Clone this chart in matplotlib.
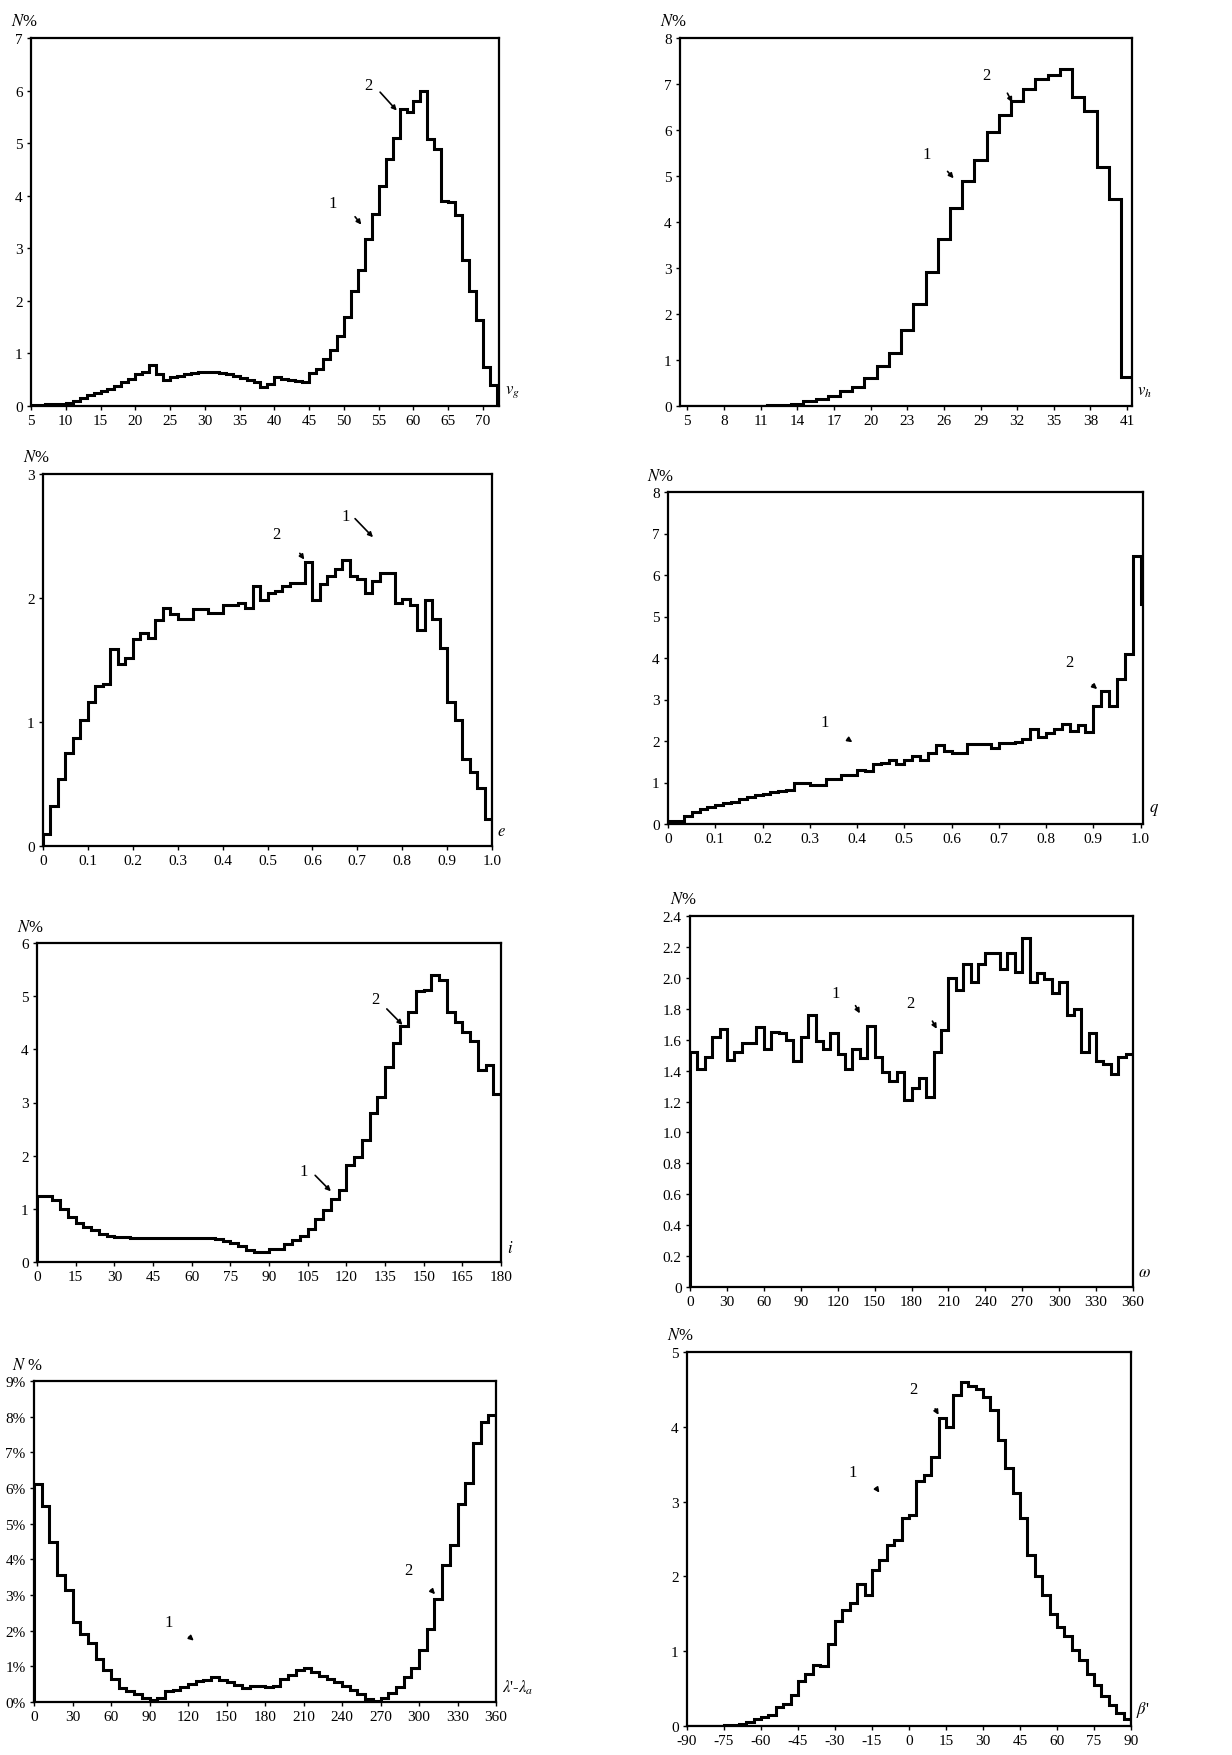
import numpy as np
import matplotlib
matplotlib.use("Agg")
import matplotlib.pyplot as plt

plt.rcParams['font.family'] = ['Liberation Serif', 'DejaVu Serif']
plt.rcParams['mathtext.fontset'] = 'stix'
plt.rcParams['axes.unicode_minus'] = False

# ---------------- data ----------------
# Panel 1: v_g
vg_values = [0.01, 0.02, 0.03, 0.03, 0.04, 0.05, 0.1, 0.15, 0.2, 0.24,
             0.28, 0.32, 0.38, 0.46, 0.52, 0.6, 0.65, 0.78, 0.6, 0.5,
             0.55, 0.58, 0.6, 0.62, 0.64, 0.65, 0.64, 0.62, 0.6, 0.57,
             0.54, 0.5, 0.46, 0.36, 0.42, 0.55, 0.52, 0.5, 0.47, 0.46,
             0.62, 0.7, 0.9, 1.06, 1.34, 1.7, 2.18, 2.59, 3.17, 3.66,
             4.18, 4.69, 5.1, 5.65, 5.6, 5.8, 6.0, 5.08, 4.88, 3.9,
             3.88, 3.64, 2.78, 2.18, 1.64, 0.75, 0.4]
vg_bins = (5.0, 1.0)
vg_xticks = [5, 10, 15, 20, 25, 30, 35, 40, 45, 50, 55, 60, 65, 70]
vg_yticks = [0, 1, 2, 3, 4, 5, 6, 7]

# Panel 2: v_h
vh_values = [0.0, 0.0, 0.0, 0.0, 0.0, 0.01, 0.01, 0.02, 0.03, 0.05,
             0.1, 0.15, 0.22, 0.32, 0.42, 0.6, 0.87, 1.16, 1.65, 2.21,
             2.92, 3.62, 4.3, 4.9, 5.34, 5.95, 6.32, 6.64, 6.9, 7.1,
             7.19, 7.33, 6.71, 6.42, 5.19, 4.5, 0.63]
vh_bins = (4.5, 1.0)
vh_xticks = [5, 8, 11, 14, 17, 20, 23, 26, 29, 32, 35, 38, 41]
vh_yticks = [0, 1, 2, 3, 4, 5, 6, 7, 8]

# Panel 3: e
e_values = [0.1, 0.32, 0.54, 0.75, 0.87, 1.02, 1.16, 1.29, 1.31, 1.59,
            1.47, 1.52, 1.67, 1.72, 1.68, 1.82, 1.92, 1.87, 1.83, 1.83,
            1.91, 1.91, 1.88, 1.88, 1.94, 1.94, 1.96, 1.92, 2.1, 1.98,
            2.04, 2.06, 2.1, 2.12, 2.12, 2.29, 1.98, 2.11, 2.18, 2.23,
            2.31, 2.18, 2.15, 2.04, 2.14, 2.2, 2.2, 1.96, 1.99, 1.94,
            1.74, 1.98, 1.83, 1.6, 1.16, 1.02, 0.7, 0.6, 0.47, 0.22]
e_bins = (0.0, 1.0 / 60)
e_xticks = [0, 0.1, 0.2, 0.3, 0.4, 0.5, 0.6, 0.7, 0.8, 0.9, 1.0]
e_xticklabels = ['0', '0.1', '0.2', '0.3', '0.4', '0.5', '0.6', '0.7', '0.8', '0.9', '1.0']
e_yticks = [0, 1, 2, 3]

# Panel 4: q
q_values = [0.08, 0.08, 0.2, 0.3, 0.35, 0.42, 0.46, 0.5, 0.54, 0.6,
            0.66, 0.7, 0.72, 0.78, 0.8, 0.83, 1.0, 1.0, 0.94, 0.94,
            1.09, 1.09, 1.18, 1.18, 1.3, 1.27, 1.45, 1.47, 1.55, 1.44,
            1.55, 1.64, 1.55, 1.7, 1.9, 1.75, 1.7, 1.7, 1.92, 1.92,
            1.92, 1.82, 1.95, 1.95, 1.97, 2.05, 2.28, 2.1, 2.2, 2.28,
            2.4, 2.25, 2.38, 2.22, 2.85, 3.2, 2.85, 3.5, 4.1, 6.45, 5.3]
q_bins = (0.0, 1.0 / 60)
q_xticks = e_xticks
q_xticklabels = e_xticklabels
q_yticks = [0, 1, 2, 3, 4, 5, 6, 7, 8]

# Panel 5: i
i_values = [1.25, 1.25, 1.17, 1.0, 0.85, 0.74, 0.66, 0.6, 0.53, 0.48,
            0.47, 0.47, 0.46, 0.46, 0.45, 0.45, 0.45, 0.45, 0.45, 0.45,
            0.46, 0.46, 0.46, 0.43, 0.4, 0.35, 0.3, 0.23, 0.19, 0.19,
            0.25, 0.25, 0.33, 0.41, 0.48, 0.63, 0.81, 0.97, 1.19, 1.36,
            1.82, 1.97, 2.3, 2.8, 3.1, 3.66, 4.12, 4.43, 4.7, 5.09,
            5.12, 5.4, 5.3, 4.71, 4.52, 4.32, 4.16, 3.61, 3.7, 3.16]
i_bins = (0.0, 3.0)
i_xticks = [0, 15, 30, 45, 60, 75, 90, 105, 120, 135, 150, 165, 180]
i_yticks = [0, 1, 2, 3, 4, 5, 6]

# Panel 6: omega
w_values = [1.52, 1.41, 1.49, 1.62, 1.67, 1.47, 1.52, 1.58, 1.58, 1.68,
            1.54, 1.65, 1.64, 1.6, 1.46, 1.62, 1.76, 1.59, 1.54, 1.64,
            1.51, 1.41, 1.54, 1.48, 1.69, 1.49, 1.39, 1.33, 1.39, 1.21,
            1.29, 1.35, 1.23, 1.52, 1.66, 2.0, 1.92, 2.09, 1.97, 2.09,
            2.16, 2.16, 2.06, 2.16, 2.04, 2.26, 1.97, 2.03, 1.99, 1.9,
            1.97, 1.76, 1.8, 1.52, 1.64, 1.46, 1.44, 1.38, 1.49, 1.51]
w_bins = (0.0, 6.0)
w_xticks = [0, 30, 60, 90, 120, 150, 180, 210, 240, 270, 300, 330, 360]
w_yticks = [0, 0.2, 0.4, 0.6, 0.8, 1.0, 1.2, 1.4, 1.6, 1.8, 2.0, 2.2, 2.4]
w_yticklabels = ['0', '0.2', '0.4', '0.6', '0.8', '1.0', '1.2', '1.4', '1.6', '1.8', '2.0', '2.2', '2.4']

# Panel 7: lambda' - lambda_a
l_values = [6.1, 5.5, 4.5, 3.55, 3.15, 2.25, 1.9, 1.65, 1.2, 0.9,
            0.65, 0.4, 0.3, 0.22, 0.1, 0.05, 0.12, 0.3, 0.35, 0.42,
            0.5, 0.58, 0.63, 0.7, 0.62, 0.55, 0.48, 0.4, 0.45, 0.45,
            0.42, 0.45, 0.65, 0.75, 0.9, 0.95, 0.85, 0.72, 0.65, 0.55,
            0.45, 0.35, 0.22, 0.08, 0.02, 0.1, 0.25, 0.42, 0.7, 0.95,
            1.45, 2.05, 2.9, 3.85, 4.4, 5.55, 6.15, 7.25, 7.85, 8.05]
l_bins = (0.0, 6.0)
l_xticks = w_xticks
l_yticks = [0, 1, 2, 3, 4, 5, 6, 7, 8, 9]
l_yticklabels = ['0%', '1%', '2%', '3%', '4%', '5%', '6%', '7%', '8%', '9%']

# Panel 8: beta'
b_values = [0.0, 0.0, 0.0, 0.0, 0.005, 0.01, 0.015, 0.03, 0.05, 0.1,
            0.12, 0.15, 0.25, 0.3, 0.42, 0.6, 0.7, 0.82, 0.8, 1.1,
            1.4, 1.55, 1.65, 1.9, 1.75, 2.08, 2.22, 2.42, 2.48, 2.78,
            2.82, 3.28, 3.35, 3.6, 4.12, 4.0, 4.42, 4.6, 4.55, 4.5,
            4.4, 4.22, 3.83, 3.45, 3.12, 2.78, 2.28, 2.0, 1.75, 1.5,
            1.32, 1.2, 1.02, 0.88, 0.7, 0.55, 0.4, 0.28, 0.18, 0.1]
b_bins = (-90.0, 3.0)
b_xticks = [-90, -75, -60, -45, -30, -15, 0, 15, 30, 45, 60, 75, 90]
b_yticks = [0, 1, 2, 3, 4, 5]

# ---------------- layout / styles ----------------
W, H = 1232, 1756
fig = plt.figure(figsize=(W / 100, H / 100), dpi=100)


def make_ax(l, r, t, b):
    return fig.add_axes([l / W, 1 - b / H, (r - l) / W, (b - t) / H])


panels = [
    dict(box=(31, 499, 39, 407), vals=vg_values, bins=vg_bins, xlim=(5, 72.3), ylim=(0, 7),
         xt=vg_xticks, xtl=None, yt=vg_yticks, ytl=None, ylab=r'$N$%', xlab=r'$v_g$',
         t1=(48.4, 3.87), a1=((51.6, 3.6), (52.5, 3.45)),
         t2=(53.5, 6.1), a2=((55.2, 5.97), (57.6, 5.62))),
    dict(box=(680, 1132, 39, 407), vals=vh_values, bins=vh_bins, xlim=(4.4, 41.4), ylim=(0, 8),
         xt=vh_xticks, xtl=None, yt=vh_yticks, ytl=None, ylab=r'$N$%', xlab=r'$v_h$',
         t1=(24.6, 5.48), a1=((26.3, 5.1), (26.8, 4.95)),
         t2=(29.5, 7.19), a2=((31.2, 6.8), (31.6, 6.6))),
    dict(box=(43, 492, 475, 847), vals=e_values, bins=e_bins, xlim=(0, 1.0), ylim=(0, 3),
         xt=e_xticks, xtl=e_xticklabels, yt=e_yticks, ytl=None, ylab=r'$N$%', xlab=r'$e$',
         t1=(0.673, 2.66), a1=((0.695, 2.64), (0.735, 2.49)),
         t2=(0.52, 2.52), a2=((0.572, 2.36), (0.582, 2.31))),
    dict(box=(668, 1143, 493, 825), vals=q_values, bins=q_bins, xlim=(0, 1.005), ylim=(0, 8),
         xt=q_xticks, xtl=q_xticklabels, yt=q_yticks, ytl=None, ylab=r'$N$%', xlab=r'$q$',
         t1=(0.332, 2.45), a1=((0.38, 2.05), (0.39, 1.97)),
         t2=(0.849, 3.9), a2=((0.898, 3.35), (0.908, 3.25))),
    dict(box=(37, 501, 944, 1263), vals=i_values, bins=i_bins, xlim=(0, 180), ylim=(0, 6),
         xt=i_xticks, xtl=None, yt=i_yticks, ytl=None, ylab=r'$N$%', xlab=r'$i$',
         t1=(103.3, 1.72), a1=((107.9, 1.63), (114.0, 1.33)),
         t2=(131.2, 4.95), a2=((135.7, 4.76), (141.8, 4.46))),
    dict(box=(690, 1133, 917, 1288), vals=w_values, bins=w_bins, xlim=(0, 360), ylim=(0, 2.4),
         xt=w_xticks, xtl=None, yt=w_yticks, ytl=w_yticklabels, ylab=r'$N$%', xlab=r'$\omega$',
         t1=(118.6, 1.905), a1=((134.5, 1.82), (138.0, 1.77)),
         t2=(179.2, 1.84), a2=((197.0, 1.72), (200.5, 1.67))),
    dict(box=(34, 496, 1382, 1703), vals=l_values, bins=l_bins, xlim=(0, 360), ylim=(0, 9),
         xt=l_xticks, xtl=None, yt=l_yticks, ytl=l_yticklabels, ylab=r'$N$ %',
         xlab=r"$\lambda$'-$\lambda_a$",
         t1=(104.6, 2.24), a1=((121.0, 1.83), (124.5, 1.72)),
         t2=(291.8, 3.69), a2=((309.5, 3.14), (312.5, 3.02))),
    dict(box=(687, 1131, 1353, 1727), vals=b_values, bins=b_bins, xlim=(-90, 90), ylim=(0, 5),
         xt=b_xticks, xtl=None, yt=b_yticks, ytl=None, ylab=r'$N$%', xlab=r"$\beta$'",
         t1=(-22.7, 3.39), a1=((-13.3, 3.18), (-12.0, 3.12)),
         t2=(1.6, 4.5), a2=((10.6, 4.24), (12.0, 4.16))),
]

for p in panels:
    ax = make_ax(*p['box'])
    start, width = p['bins']
    n = len(p['vals'])
    edges = start + width * np.arange(n + 1)
    ax.stairs(p['vals'], edges, baseline=0, color='black', lw=2.2)
    ax.set_xlim(*p['xlim'])
    ax.set_ylim(*p['ylim'])
    ax.set_xticks(p['xt'])
    if p['xtl'] is not None:
        ax.set_xticklabels(p['xtl'])
    ax.set_yticks(p['yt'])
    if p['ytl'] is not None:
        ax.set_yticklabels(p['ytl'])
    for s in ax.spines.values():
        s.set_linewidth(1.6)
        s.set_color('black')
    ax.tick_params(axis='both', direction='out', length=3, width=1, labelsize=11, pad=3)
    ax.text(-0.015, 1.025, p['ylab'], transform=ax.transAxes, ha='center', va='bottom', fontsize=12)
    ax.text(1.012, 0.02, p['xlab'], transform=ax.transAxes, ha='left', va='bottom', fontsize=12)
    ax.text(*p['t1'], '1', fontsize=12, ha='center', va='center')
    ax.text(*p['t2'], '2', fontsize=12, ha='center', va='center')
    for tail, tip in (p['a1'], p['a2']):
        ax.annotate('', xy=tip, xytext=tail,
                    arrowprops=dict(arrowstyle='-|>', color='black', lw=1.2,
                                    mutation_scale=7, shrinkA=0, shrinkB=0))

fig.savefig('out.png', dpi=100, facecolor='white')
